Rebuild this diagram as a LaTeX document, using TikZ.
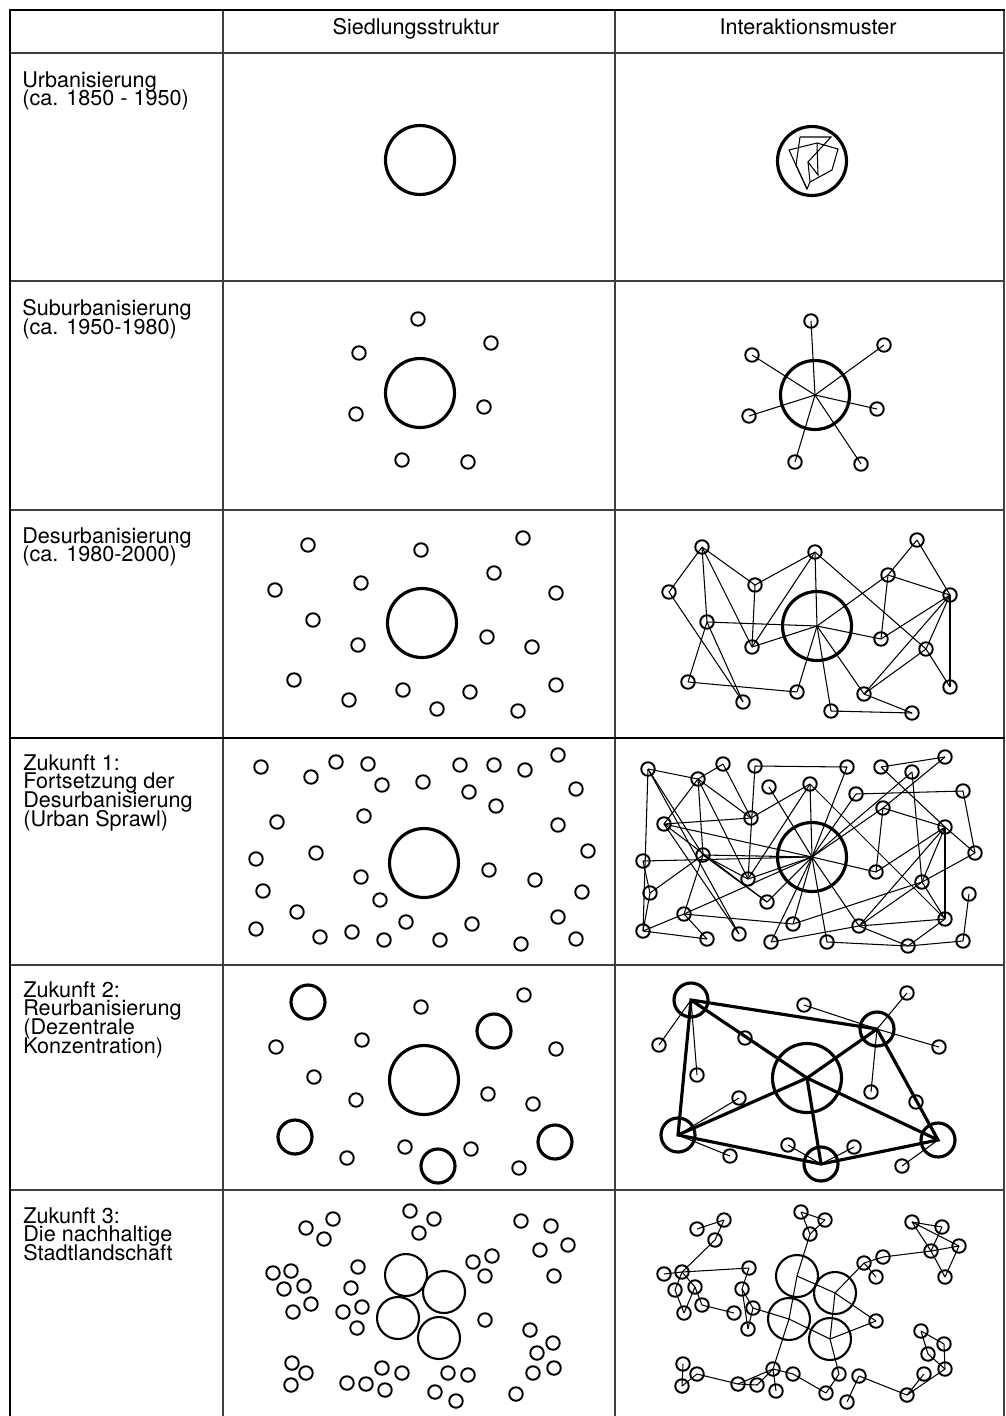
\documentclass[tikz,border=0pt]{standalone}
\usepackage{fontspec}
\setmainfont{TeX Gyre Heros}

\newcommand{\engzeilig}{\fontsize{12.3}{10.7}\selectfont\lineskiplimit-20pt\relax}
\newcommand{\orteSub}{418/319, 491/343, 359/353, 484/407, 356/414, 402/460, 468/462}
\newcommand{\orteDesurb}{308/545, 275/590, 361/583, 421/550, 523/538, 494/573, 556/593, 313/620, 358/645, 487/637, 532/647, 294/680, 349/700, 403/690, 437/709, 470/692, 518/711, 556/685}
\newcommand{\orteSprawl}{261/767, 336/762, 368/764, 460/765, 494/765, 558/755, 311/777, 382/785, 423/782, 525/770, 469/792, 576/789, 496/806, 277/822, 364/816, 558/825, 256/859, 316/853, 588/851, 489/870, 361/877, 535/880, 263/891, 582/892, 380/900, 297/912, 406/922, 472/924, 558/917, 256/929, 320/937, 352/932, 384/940, 440/940, 521/944, 576/939}
\newcommand{\orteReurb}{276/1047, 314/1077, 362/1040, 421/1007, 524/995, 556/1049, 488/1094, 533/1104, 356/1100, 347/1158, 405/1147, 471/1149, 519/1168}
\newcommand{\zentrenReurb}{308/1002, 494/1031, 295/1137, 438/1166, 555/1142}
\newcommand{\orteNach}{306/1228, 333/1219, 324/1239, 410/1211, 434/1219, 419/1233, 521/1221, 551/1226, 540/1250, 568/1245, 554/1276, 473/1262, 492/1256, 485/1276, 273/1273, 291/1271, 284/1289, 304/1286, 311/1304, 293/1312, 358/1267, 351/1288, 362/1307, 343/1312, 357/1328, 485/1320, 530/1330, 553/1343, 537/1353, 533/1373, 554/1368, 516/1394, 292/1363, 306/1373, 291/1385, 347/1383, 366/1384, 382/1368, 402/1373, 385/1390, 448/1373, 468/1375, 435/1392, 456/1401}
\newcommand{\kerneNach}{406/1275, 444/1292, 398/1318, 439/1338}

\begin{document}
\begin{tikzpicture}[x=0.02cm,y=-0.02cm,font=\engzeilig,
  ort/.style={circle,draw,line width=1.1pt,inner sep=0pt,minimum size=0.27cm},
  kern/.style={circle,draw,line width=1.8pt,inner sep=0pt,minimum size=1.38cm},
  zentrum/.style={circle,draw,line width=1.8pt,inner sep=0pt,minimum size=0.68cm},
  kernteil/.style={circle,draw,line width=1.2pt,inner sep=0pt,minimum size=0.84cm},
  netz/.style={line width=0.6pt},
  achse/.style={line width=1.8pt},
  gitter/.style={draw=black!75,line width=0.6pt},
  rahmen/.style={line width=1.4pt},
  phase/.style={anchor=north west,align=left,inner sep=0pt}]

\useasboundingbox (0,0) rectangle (1005,1416);

\draw[gitter] (223,10) -- (223,1416) (615,10) -- (615,1416) (1004,10) -- (1004,1416);
\draw[gitter] (10,53) -- (1005,53) (10,281) -- (1005,281) (10,510) -- (1005,510)
  (10,965) -- (1005,965) (10,1190) -- (1005,1190);
\draw[rahmen] (10,738) -- (1005,738);
\draw[rahmen] (10,1416) -- (10,10) -- (1005,10);

\node[anchor=base] (kopf1) at (416,35) {Siedlungsstruktur};
\node[anchor=base] (kopf2) at (808,35) {Interaktionsmuster};

\node[phase] (p1) at (22,71) {Urbanisierung\\(ca. 1850 - 1950)};
\node[phase] (p2) at (22,299) {Suburbanisierung\\(ca. 1950-1980)};
\node[phase] (p3) at (22,527) {Desurbanisierung\\(ca. 1980-2000)};
\node[phase] (p4) at (23,754) {Zukunft 1:\\Fortsetzung der\\Desurbanisierung\\(Urban Sprawl)};
\node[phase] (p5) at (23,981) {Zukunft 2:\\Reurbanisierung\\(Dezentrale\\Konzentration)};
\node[phase] (p6) at (23,1207) {Zukunft 3:\\Die nachhaltige\\Stadtlandschaft};

% Urbanisierung
\node[kern] (uak) at (420,160) {};
\node[kern] (ubk) at (812,161) {};
\draw[netz] (789,150) -- (817,143) -- (838,149) -- (832,170) -- (810,182) -- (807,189) -- cycle;
\draw[netz] (800,137) -- (831,137) -- (808,162) -- (810,182);
\draw[netz] (800,137) -- (796,165) -- (807,189);
\draw[netz] (817,143) -- (818,175) -- (808,162);

% Suburbanisierung
\foreach \p/\dx/\dy in {a/0/0,b/393/2}{
  \begin{scope}[shift={(\dx,\dy)}]
    \foreach \x/\y [count=\i] in \orteSub \node[ort] (s\p\i) at (\x,\y) {};
  \end{scope}
}
\node[kern] (sak) at (420,393) {};
\node[kern] (sbk) at (815,395) {};
\foreach \i in {1,...,7} \draw[netz] (sbk.center) -- (sb\i.center);

% Desurbanisierung
\foreach \p/\dx/\dy in {a/0/0,b/394/2}{
  \begin{scope}[shift={(\dx,\dy)}]
    \foreach \x/\y [count=\i] in \orteDesurb \node[ort] (d\p\i) at (\x,\y) {};
  \end{scope}
}
\node[kern] (dak) at (422,623) {};
\node[kern] (dbk) at (817,626) {};
\foreach \s/\t in {1/2,1/8,1/3,1/9,2/13,3/4,3/9,4/9,4/k,4/11,8/k,8/12,8/13,9/k,12/14,14/k,
  k/15,k/16,k/10,k/6,15/17,16/17,16/7,16/11,5/6,5/7,6/7,6/10,10/7,11/7,11/18,7/18}
  \draw[netz] (db\s.center) -- (db\t.center);

% Zukunft 1
\foreach \p/\dx/\dy in {a/0/0,b/387/2}{
  \begin{scope}[shift={(\dx,\dy)}]
    \foreach \x/\y [count=\i] in \orteSprawl \node[ort] (f\p\i) at (\x,\y) {};
  \end{scope}
}
\node[kern] (fak) at (424,863) {};
\node[kern] (fbk) at (812,857) {};
\foreach \s/\t in {1/7,1/18,1/32,1/30,2/7,2/15,3/4,3/21,5/6,5/16,6/13,7/14,7/18,7/15,7/21,
  9/15,9/21,9/29,10/22,11/12,12/19,13/20,13/16,14/15,14/25,14/32,16/19,16/29,16/20,16/28,
  16/22,17/23,18/21,18/23,18/26,18/25,19/22,24/36,22/27,22/29,22/28,23/30,26/27,26/31,
  30/31,30/26,28/29,28/35,28/33,34/35,35/36,35/29,
  k/4,k/8,k/9,k/10,k/11,k/13,k/14,k/17,k/18,k/21,k/26,k/33,k/27,k/34,k/20,k/28,k/25}
  \draw[netz] (fb\s.center) -- (fb\t.center);

% Zukunft 2
\foreach \p/\dx/\dy in {a/0/0,b/383/-2}{
  \begin{scope}[shift={(\dx,\dy)}]
    \foreach \x/\y [count=\i] in \orteReurb \node[ort] (r\p\i) at (\x,\y) {};
    \foreach \x/\y [count=\i] in \zentrenReurb \node[zentrum] (r\p z\i) at (\x,\y) {};
    \node[kern] (r\p k) at (424,1080) {};
  \end{scope}
}
\foreach \i in {1,...,5} \draw[achse] (rbk.center) -- (rbz\i.center);
\draw[achse] (rbz1.center) -- (rbz2.center) -- (rbz5.center) -- (rbz4.center) -- (rbz3.center) -- cycle;
\foreach \s/\t in {1/1,1/2,2/4,2/5,2/6,2/7,3/9,3/10,4/11,4/12,5/13}
  \draw[netz] (rbz\s.center) -- (rb\t.center);

% Zukunft 3
\foreach \p/\dx/\dy in {a/0/0,b/391/1}{
  \begin{scope}[shift={(\dx,\dy)}]
    \foreach \x/\y [count=\i] in \orteNach \node[ort] (n\p\i) at (\x,\y) {};
    \foreach \x/\y [count=\i] in \kerneNach \node[kernteil] (n\p K\i) at (\x,\y) {};
  \end{scope}
}
\foreach \s/\t in {1/2,2/3,3/16,4/5,5/6,4/6,6/K1,K1/K3,K3/38,K1/K2,K2/12,K2/26,K2/K4,K4/26,
  K3/K4,K3/23,K4/41,12/13,12/14,13/9,7/8,7/9,7/10,8/9,9/10,10/11,9/11,15/16,16/21,16/17,
  17/20,18/19,18/20,19/24,16/18,21/22,22/25,22/23,23/25,27/28,27/29,28/31,29/31,31/32,
  30/32,33/35,34/35,34/36,36/37,36/38,37/38,38/40,38/39,39/43,41/43,42/44,42/32}
  \draw[netz] (nb\s.center) -- (nb\t.center);

\end{tikzpicture}
\end{document}
